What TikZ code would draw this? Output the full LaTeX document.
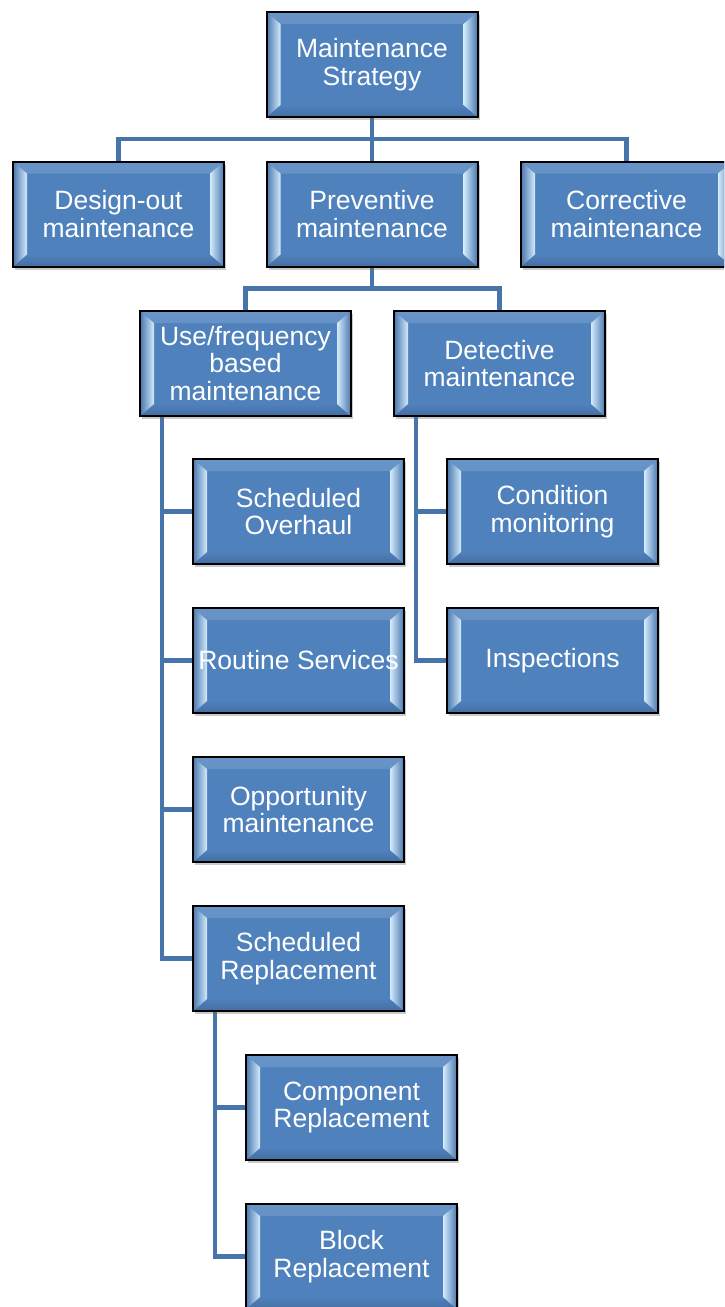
\documentclass[tikz,border=0pt]{standalone}
\usepackage{fontspec}
\setmainfont{Liberation Sans}
\usetikzlibrary{shadows,backgrounds}
\definecolor{boxblue}{HTML}{4F81BD}
\definecolor{bevlite}{HTML}{D4EBFC}
\definecolor{linkblue}{HTML}{4674AB}

\begin{document}
\begin{tikzpicture}[x=1pt,y=-1pt,
  bbox/.style={
    draw=black, line width=2pt, fill=boxblue,
    minimum width=211pt, minimum height=105pt, inner sep=0pt,
    text=white, align=center,
    font=\fontsize{26.5}{27.5}\selectfont,
    drop shadow={shadow xshift=2pt, shadow yshift=-3pt, opacity=0.35, fill=black!60},
    path picture={
      % top bevel face
      \fill[top color=boxblue!85!white, bottom color=boxblue]
        (path picture bounding box.north west) -- (path picture bounding box.north east)
        -- ([shift={(-14pt,-12pt)}]path picture bounding box.north east)
        -- ([shift={(14pt,-12pt)}]path picture bounding box.north west) -- cycle;
      % bottom bevel face
      \fill[top color=boxblue, bottom color=boxblue!85!black]
        (path picture bounding box.south west) -- (path picture bounding box.south east)
        -- ([shift={(-14pt,12pt)}]path picture bounding box.south east)
        -- ([shift={(14pt,12pt)}]path picture bounding box.south west) -- cycle;
      % left bevel face
      \fill[left color=boxblue!92!black, middle color=boxblue, right color=bevlite]
        (path picture bounding box.north west)
        -- ([shift={(14pt,-12pt)}]path picture bounding box.north west)
        -- ([shift={(14pt,12pt)}]path picture bounding box.south west)
        -- (path picture bounding box.south west) -- cycle;
      % right bevel face
      \fill[left color=bevlite, middle color=boxblue!95!white, right color=boxblue!92!black]
        (path picture bounding box.north east)
        -- ([shift={(-14pt,-12pt)}]path picture bounding box.north east)
        -- ([shift={(-14pt,12pt)}]path picture bounding box.south east)
        -- (path picture bounding box.south east) -- cycle;
    }},
  link/.style={draw=linkblue, line width=4.5pt}]

\useasboundingbox (0,0) rectangle (724,1307);
\clip (0,0) rectangle (724,1307);

% top level
\node[bbox] (ms) at (372,64.5) {Maintenance\\Strategy};

% strategies
\node[bbox] (dout) at (118.5,214) {Design-out\\maintenance};
\node[bbox] (prev) at (372,214) {Preventive\\maintenance};
\node[bbox] (corr) at (626.5,214) {Corrective\\maintenance};

% preventive branches
\node[bbox] (use) at (245.5,363.5) {Use/frequency\\based\\maintenance};
\node[bbox] (det) at (499.5,363.5) {Detective\\maintenance};

% use/frequency based tasks
\node[bbox] (sov) at (298.5,511.5) {Scheduled\\Overhaul};
\node[bbox] (rs)  at (298.5,660.5) {Routine Services};
\node[bbox] (opp) at (298.5,809.5) {Opportunity\\maintenance};
\node[bbox] (srep) at (298.5,958.5) {Scheduled\\Replacement};

% replacement types
\node[bbox] (comp) at (351.5,1107.5) {Component\\Replacement};
\node[bbox] (blk)  at (351.5,1256.5) {Block\\Replacement};

% detective tasks
\node[bbox] (cond) at (552.5,511.5) {Condition\\monitoring};
\node[bbox] (insp) at (552.5,660.5) {Inspections};

% connectors
\begin{scope}[on background layer]
  \draw[link] (ms.south) -- ++(0,21) -| (dout.north);
  \draw[link] (ms.south) -- (prev.north);
  \draw[link] (ms.south) -- ++(0,21) -| (corr.north);

  \draw[link] (prev.south) -- ++(0,21) -| (use.north);
  \draw[link] (prev.south) -- ++(0,21) -| (det.north);

  \draw[link] ([xshift=23pt]use.south west) |- (sov.west);
  \draw[link] ([xshift=23pt]use.south west) |- (rs.west);
  \draw[link] ([xshift=23pt]use.south west) |- (opp.west);
  \draw[link] ([xshift=23pt]use.south west) |- (srep.west);

  \draw[link] ([xshift=23pt]det.south west) |- (cond.west);
  \draw[link] ([xshift=23pt]det.south west) |- (insp.west);

  \draw[link] ([xshift=23pt]srep.south west) |- (comp.west);
  \draw[link] ([xshift=23pt]srep.south west) |- (blk.west);
\end{scope}
\end{tikzpicture}
\end{document}
